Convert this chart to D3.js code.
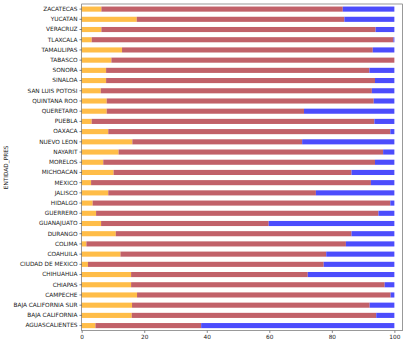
<!DOCTYPE html>
<html><head><meta charset="utf-8">
<script src="https://cdn.jsdelivr.net/npm/d3@7"></script>
<style>body{margin:0;background:#fff}svg{display:block}text{font-family:"DejaVu Sans",sans-serif}</style>
</head><body><svg id="c" width="414" height="345"></svg>
<script>
const categories = ["ZACATECAS","YUCATAN","VERACRUZ","TLAXCALA","TAMAULIPAS","TABASCO","SONORA","SINALOA","SAN LUIS POTOSI","QUINTANA ROO","QUERETARO","PUEBLA","OAXACA","NUEVO LEON","NAYARIT","MORELOS","MICHOACAN","MEXICO","JALISCO","HIDALGO","GUERRERO","GUANAJUATO","DURANGO","COLIMA","COAHUILA","CIUDAD DE MEXICO","CHIHUAHUA","CHIAPAS","CAMPECHE","BAJA CALIFORNIA SUR","BAJA CALIFORNIA","AGUASCALIENTES"];
const seriesA = [6.3,17.6,6.3,3.2,12.9,9.5,7.8,7.8,6.1,8.0,8.0,3.2,8.5,16.2,11.8,6.9,10.2,3.0,8.5,3.5,4.6,6.2,10.9,1.5,12.4,2.0,15.8,15.8,17.7,16.1,16.0,4.4];
const seriesB = [77.2,66.4,87.7,96.5,80.2,90.5,84.2,86.0,86.7,85.4,63.1,90.4,90.2,54.3,84.6,86.9,76.1,89.5,66.4,95.2,90.3,53.6,75.4,83.0,65.8,75.4,56.5,81.1,81.1,76.0,78.2,33.8];
const seriesC = categories.map((d,i)=>+(100-seriesA[i]-seriesB[i]).toFixed(1));
const xTicks = [0,20,40,60,80,100];
const colors = ["rgb(255,189,72)","rgb(193,97,105)","rgb(76,76,252)"];

const svg = d3.select("#c");
const L=81.7, R=402.5, T=4, B=330.7;
const x = d3.scaleLinear().domain([0,102.6]).range([L,R]);
const y = d3.scaleBand().domain(categories).range([T,B]).paddingInner(0).paddingOuter(0);
const bh = y.bandwidth()*0.5;

const stackData = categories.map((c,i)=>({cat:c,a:seriesA[i],b:seriesB[i],c:seriesC[i]}));
const stack = d3.stack().keys(["a","b","c"])(stackData);
svg.append("g").selectAll("g").data(stack).join("g").attr("fill",(d,i)=>colors[i])
  .selectAll("rect").data(d=>d).join("rect")
  .attr("x",d=>x(d[0])).attr("width",d=>x(d[1])-x(d[0]))
  .attr("y",d=>y(d.data.cat)+y.bandwidth()/2-bh/2).attr("height",bh);

const xa = svg.append("g").attr("transform",`translate(0,${B})`)
  .call(d3.axisBottom(x).tickValues(xTicks).tickSize(2.2).tickPadding(2).tickFormat(d3.format("d")));
const ya = svg.append("g").attr("transform",`translate(${L},0)`)
  .call(d3.axisLeft(y).tickSize(2.2).tickPadding(2));
[xa,ya].forEach(a=>{a.select(".domain").remove();a.selectAll("line").attr("stroke","#333").attr("stroke-width",0.6);
  a.selectAll("text").attr("font-size",5.8).attr("fill","#222").attr("font-family","DejaVu Sans");});
svg.append("rect").attr("x",L).attr("y",T).attr("width",R-L).attr("height",B-T)
  .attr("fill","none").attr("stroke","#555").attr("stroke-width",0.6);
svg.append("text").attr("transform",`translate(8,${(T+B)/2}) rotate(-90)`).attr("text-anchor","middle")
  .attr("font-size",5.8).attr("fill","#222").text("ENTIDAD_PRES");
</script></body></html>
